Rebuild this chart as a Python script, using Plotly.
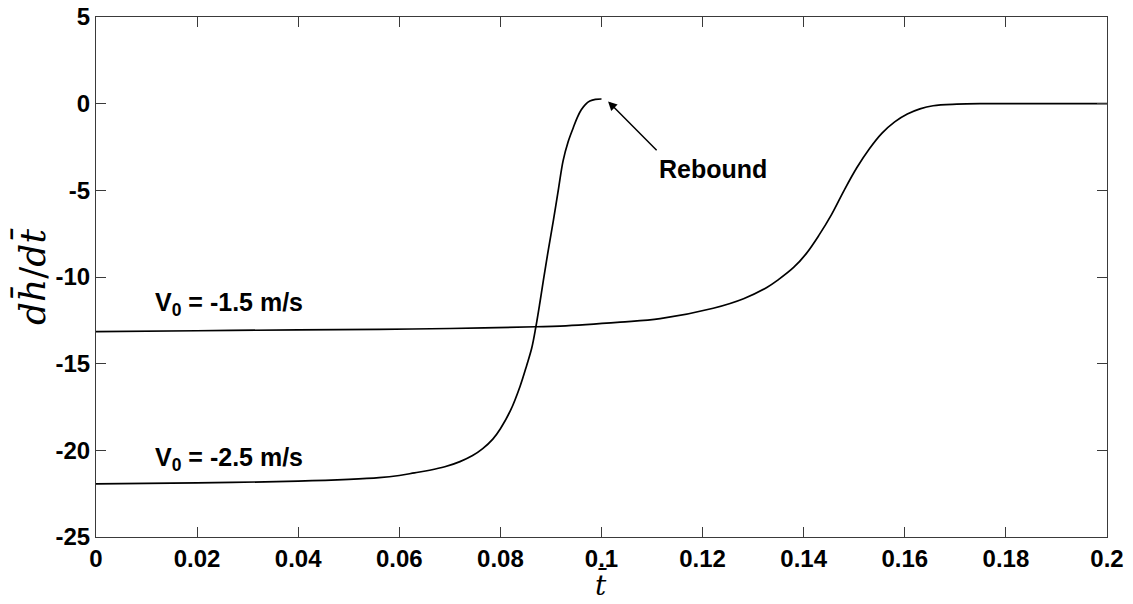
import plotly.graph_objects as go

# V0 = -2.5 m/s curve
t_25 = [0, 0.02, 0.04, 0.05, 0.056, 0.06, 0.063, 0.066, 0.069, 0.072, 0.0745, 0.0765,
        0.0785, 0.08, 0.082, 0.0839, 0.0852, 0.0862, 0.087, 0.0878, 0.0885, 0.0895, 0.0905,
        0.0915, 0.0924, 0.0934, 0.0944, 0.0952, 0.096, 0.0968, 0.0977, 0.0988, 0.1]
v_25 = [-21.93, -21.88, -21.78, -21.68, -21.58, -21.45, -21.3, -21.15, -20.95, -20.65, -20.3, -19.9,
        -19.35, -18.75, -17.7, -16.3, -15.1, -14.1, -12.9, -11.5, -10.2, -8.4, -6.7,
        -4.9, -3.3, -2.2, -1.4, -0.8, -0.35, -0.05, 0.15, 0.25, 0.27]

# V0 = -1.5 m/s curve
t_15 = [0, 0.02, 0.04, 0.056, 0.07, 0.087, 0.0918, 0.1037, 0.1116, 0.1221, 0.1281, 0.1327,
        0.135, 0.138, 0.1405, 0.143, 0.1455, 0.148, 0.1505, 0.153, 0.1555, 0.158, 0.1605,
        0.163, 0.1656, 0.1703, 0.175, 0.18, 0.19, 0.2]
v_15 = [-13.15, -13.1, -13.05, -13.02, -12.97, -12.87, -12.83, -12.6, -12.4, -11.8, -11.25, -10.6,
        -10.15, -9.45, -8.65, -7.6, -6.4, -5.0, -3.7, -2.6, -1.7, -1.05, -0.6,
        -0.3, -0.12, -0.03, 0.0, 0.0, 0.0, 0.0]

x_ticks = [0, 0.02, 0.04, 0.06, 0.08, 0.1, 0.12, 0.14, 0.16, 0.18, 0.2]
x_ticklabels = ["0", "0.02", "0.04", "0.06", "0.08", "0.1", "0.12", "0.14", "0.16", "0.18", "0.2"]
y_ticks = [-25, -20, -15, -10, -5, 0, 5]
y_ticklabels = ["-25", "-20", "-15", "-10", "-5", "0", "5"]

label_15 = "V<sub>0</sub> = -1.5 m/s"
label_25 = "V<sub>0</sub> = -2.5 m/s"
label_rebound = "Rebound"

SANS = "Liberation Sans, Arial, Helvetica, sans-serif"
SERIF = "DejaVu Serif, Liberation Serif, serif"
AX = "#3a3a3a"

L, R, T, B = 96, 26, 17, 67
W, H = 1133, 604
plot_w = W - L - R
plot_h = H - T - B

fig = go.Figure()
for tt, vv in ((t_15, v_15), (t_25, v_25)):
    fig.add_trace(go.Scatter(x=tt, y=vv, mode="lines",
                             line=dict(color="black", width=1.7, shape="spline", smoothing=1.0),
                             showlegend=False, hoverinfo="skip"))

axis_common = dict(showline=True, linecolor=AX, linewidth=1, mirror="allticks",
                   ticks="inside", ticklen=10, tickcolor=AX, tickwidth=1,
                   showgrid=False, zeroline=False, automargin=False,
                   tickfont=dict(family=SANS, size=24, color="black", weight="bold"))

fig.update_xaxes(range=[0, 0.2], tickvals=x_ticks, ticktext=x_ticklabels, **axis_common)
fig.update_yaxes(range=[-25, 5], tickvals=y_ticks, ticktext=y_ticklabels, **axis_common)

ann_font = dict(family=SANS, size=25, color="black", weight="bold")
fig.add_annotation(x=0.0113, y=-11.56, xref="x", yref="y", text=label_15, showarrow=False,
                   xanchor="left", yanchor="middle", font=ann_font)
fig.add_annotation(x=0.0113, y=-20.52, xref="x", yref="y", text=label_25, showarrow=False,
                   xanchor="left", yanchor="middle", font=ann_font)
fig.add_annotation(x=0.111, y=-3.76, xref="x", yref="y", text=label_rebound, showarrow=False,
                   xanchor="left", yanchor="middle", font=ann_font)
# arrow
fig.add_annotation(x=0.1013, y=0.13, ax=0.1112, ay=-2.77, xref="x", yref="y",
                   axref="x", ayref="y", text="", showarrow=True,
                   arrowhead=2, arrowsize=1.2, arrowwidth=1.5, arrowcolor="black")

# axis titles
fig.add_annotation(x=(31 - L) / plot_w, y=(H - B - 277) / plot_h, xref="paper", yref="paper",
                   text="<i>dh̄</i>/<i>dt̄</i>",
                   showarrow=False, textangle=-90, font=dict(family=SERIF, size=36, color="black"),
                   xanchor="center", yanchor="middle")
fig.add_annotation(x=0.5, y=(H - B - 584) / plot_h, xref="paper", yref="paper", text="<i>t̄</i>",
                   showarrow=False, font=dict(family=SERIF, size=28, color="black"),
                   xanchor="center", yanchor="middle")

fig.update_layout(width=W, height=H, plot_bgcolor="white", paper_bgcolor="white",
                  margin=dict(l=L, r=R, t=T, b=B, pad=0))

fig.write_html("out.html")
